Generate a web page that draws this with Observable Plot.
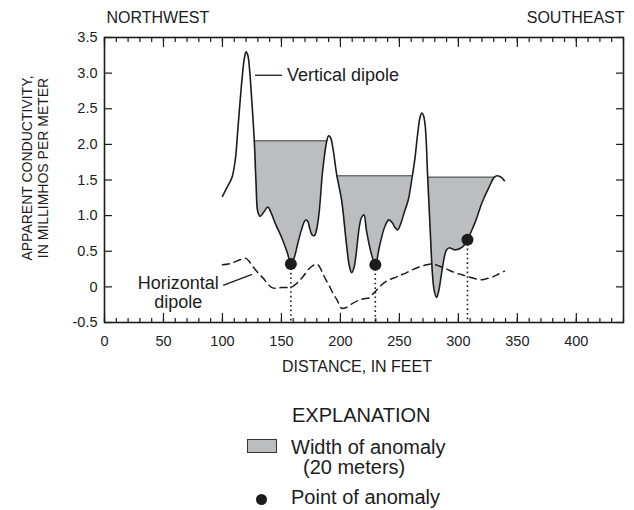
<!DOCTYPE html>
<html><head><meta charset="utf-8">
<script src="https://cdn.jsdelivr.net/npm/d3@7"></script>
<script src="https://cdn.jsdelivr.net/npm/@observablehq/plot@0.6"></script>
<style>
body{margin:0;background:#fff;}
#wrap{position:relative;width:634px;height:510px;font-family:"Liberation Sans",Arial,Helvetica,sans-serif;color:#1c1c1c;overflow:hidden;}
.lg{position:absolute;font-size:20px;line-height:20px;white-space:nowrap;}
</style></head><body>
<div id="wrap"><div id="chart"></div>
<div class="lg" style="left:292px;top:405px">EXPLANATION</div>
<div style="position:absolute;left:247px;top:439px;width:30px;height:14px;background:#bcbdc0;border:1px solid #333;box-sizing:border-box"></div>
<div class="lg" style="left:291px;top:437px">Width of anomaly</div>
<div class="lg" style="left:303px;top:457px">(20 meters)</div>
<div style="position:absolute;left:256px;top:494px;width:11px;height:11px;border-radius:50%;background:#1c1c1c"></div>
<div class="lg" style="left:291px;top:487px">Point of anomaly</div>
</div>
<script>
// Vertical dipole: [distance ft, conductivity]
const verticalDipole = [[100,1.27],[104,1.40],[108,1.53],[111,1.80],[113,2.2],[116.5,2.9],[118.5,3.2],[120,3.30],[121.5,3.25],[123,3.05],[125,2.58],[127,2.05],[128.5,1.45],[130,1.05],[132,0.99],[135,1.05],[138.5,1.12],[141,1.05],[145,0.88],[150,0.7],[155,0.48],[158,0.32],[161,0.42],[164,0.62],[167,0.80],[170,0.93],[172,0.93],[174,0.82],[176,0.73],[178,0.72],[180,0.82],[182,1.05],[185,1.64],[188.5,2.05],[190,2.12],[191.5,2.1],[193.5,1.96],[197,1.56],[201,1.22],[205,0.62],[207.5,0.3],[209.5,0.2],[211.5,0.27],[213,0.42],[216,0.84],[218,0.98],[220,1.01],[222,0.80],[226,0.48],[229.6,0.31],[233,0.56],[237.5,0.84],[241,0.94],[244,0.90],[246,0.84],[248.5,0.80],[251,0.88],[254,1.04],[257.5,1.22],[261,1.56],[263,1.78],[265.6,2.16],[267.5,2.38],[269,2.44],[270.5,2.40],[272,2.24],[274,1.54],[276,0.84],[278,0.19],[279.5,-0.05],[281.5,-0.15],[283,-0.08],[284,0],[286.6,0.28],[288.5,0.45],[290,0.52],[292.5,0.55],[295,0.53],[298,0.52],[303.6,0.56],[307.7,0.66],[311,0.78],[315,0.94],[320,1.18],[326,1.40],[330.5,1.54],[333,1.56],[335,1.55],[337,1.53],[339,1.49]];
// Horizontal dipole: [distance ft, conductivity]
const horizontalDipole = [[100,0.31],[105,0.32],[109,0.34],[115,0.38],[120,0.40],[123,0.35],[126,0.28],[130,0.2],[134.6,0.12],[138,0.05],[142,-0.01],[146,-0.02],[150,-0.01],[155,-0.01],[159,0.0],[163,0.05],[166,0.1],[169,0.16],[172.6,0.24],[176,0.29],[180,0.32],[182,0.29],[185,0.19],[188,0.09],[191,0],[194,-0.1],[197,-0.18],[199,-0.25],[201,-0.3],[205,-0.29],[209.6,-0.24],[214,-0.2],[219,-0.17],[225,-0.15],[228,-0.09],[231,-0.04],[235,0.03],[239,0.08],[243,0.11],[247.7,0.14],[250,0.16],[255,0.19],[261,0.24],[267,0.28],[273,0.31],[278,0.32],[284,0.29],[290,0.25],[297,0.2],[303,0.17],[307,0.15],[313,0.12],[320,0.1],[325,0.12],[329,0.14],[334,0.18],[339,0.22]];
// Anomaly widths
const anomalyX1 = [127, 197, 274];
const anomalyX2 = [188.5, 261, 330.5];
const anomalyTop = [2.05, 1.56, 1.54];
// Points of anomaly
const pointX = [158, 229.6, 307.7];
const pointY = [0.32, 0.31, 0.66];
// Ticks
const xTicks = [0, 50, 100, 150, 200, 250, 300, 350, 400];
const xMinorTicks = [0,10,20,30,40,50,60,70,80,90,100,110,120,130,140,150,160,170,180,190,200,210,220,230,240,250,260,270,280,290,300,310,320,330,340,350,360,370,380,390,400,410,420,430,440];
const yTicks = [-0.5, 0, 0.5, 1.0, 1.5, 2.0, 2.5, 3.0, 3.5];
// Annotations
const verticalLabel = [{t: "Vertical dipole", x: 154.7, y: 2.97}];
const horizontalLabel = [{t: "Horizontal\ndipole", x: 62.5, y: -0.077}];
const leaderX1 = [127.6, 100.6], leaderY1 = [2.97, 0.02];
const leaderX2 = [150.5, 125.1], leaderY2 = [2.97, 0.175];

const V = verticalDipole.map(([x, y]) => ({x, y}));
const H = horizontalDipole.map(([x, y]) => ({x, y}));
const regions = anomalyX1.map((x1, i) => ({x1, x2: anomalyX2[i], top: anomalyTop[i], r: i}));
const shade = regions.flatMap(r => V.filter(d => d.x >= r.x1 && d.x <= r.x2).map(d => ({...d, top: r.top, r: r.r})));
const pts = pointX.map((x, i) => ({x, y: pointY[i]}));
const leaders = leaderX1.map((x1, i) => ({x1, y1: leaderY1[i], x2: leaderX2[i], y2: leaderY2[i]}));

const ink = "#1c1c1c";
const font = '"Liberation Sans", Arial, Helvetica, sans-serif';
const chart = Plot.plot({
  width: 634, height: 385,
  marginLeft: 104, marginRight: 11, marginTop: 37, marginBottom: 63,
  style: {fontFamily: font, fontSize: "14.5px", color: ink, background: "white"},
  x: {domain: [0, 440]},
  y: {domain: [yTicks[0], yTicks[yTicks.length - 1]]},
  marks: [
    Plot.areaY(shade, {x: "x", y1: "top", y2: "y", z: "r", fill: "#bcbdc0", curve: "catmull-rom"}),
    Plot.ruleY(regions, {y: "top", x1: "x1", x2: "x2", stroke: "#6e6e6e", strokeWidth: 1.5}),
    Plot.ruleX(pts, {x: "x", y1: "y", y2: yTicks[0], stroke: ink, strokeWidth: 1.6, strokeDasharray: "1.6,3"}),
    Plot.line(H, {x: "x", y: "y", stroke: ink, strokeWidth: 1.5, strokeDasharray: "7,5", curve: "catmull-rom"}),
    Plot.line(V, {x: "x", y: "y", stroke: ink, strokeWidth: 1.6, curve: "catmull-rom"}),
    Plot.dot(pts, {x: "x", y: "y", r: 6, fill: ink}),
    Plot.link(leaders, {x1: "x1", y1: "y1", x2: "x2", y2: "y2", stroke: ink, strokeWidth: 1.3}),
    Plot.text(verticalLabel, {x: "x", y: "y", text: "t", textAnchor: "start", lineAnchor: "middle", fontSize: 18, fill: ink}),
    Plot.text(horizontalLabel, {x: "x", y: "y", text: "t", textAnchor: "middle", lineAnchor: "middle", lineHeight: 1.05, fontSize: 18, fill: ink}),
    Plot.axisX({ticks: xMinorTicks, anchor: "bottom", tickSize: -4, tickFormat: () => "", label: null, strokeWidth: 1.2}),
    Plot.axisX({ticks: xMinorTicks, anchor: "top", tickSize: -4, tickFormat: () => "", label: null, strokeWidth: 1.2}),
    Plot.axisX({ticks: xTicks, anchor: "bottom", tickSize: -9, tickFormat: () => "", label: null, strokeWidth: 1.2}),
    Plot.axisX({ticks: xTicks, anchor: "top", tickSize: -9, tickFormat: () => "", label: null, strokeWidth: 1.2}),
    Plot.axisX({ticks: xTicks, anchor: "bottom", tickSize: 0, tickPadding: 13, label: null, fontSize: 14.5}),
    Plot.axisY({ticks: yTicks, anchor: "left", tickSize: -8, tickFormat: () => "", label: null, strokeWidth: 1.2}),
    Plot.axisY({ticks: yTicks, anchor: "right", tickSize: -8, tickFormat: () => "", label: null, strokeWidth: 1.2}),
    Plot.axisY({ticks: yTicks, anchor: "left", tickSize: 0, tickPadding: 7, label: null, fontSize: 14.5,
      tickFormat: d => d === 0 ? "0" : d.toFixed(1)}),
    Plot.frame({stroke: ink, strokeWidth: 1.6}),
    Plot.text(["DISTANCE, IN FEET"], {frameAnchor: "bottom", textAnchor: "middle", dx: -7, dy: 44, lineAnchor: "middle", fontSize: 16, fill: ink}),
    Plot.text(["APPARENT CONDUCTIVITY,\nIN MILLIMHOS PER METER"], {frameAnchor: "left", textAnchor: "middle", rotate: -90, dx: -70, dy: -12, lineAnchor: "middle", lineHeight: 1.15, fontSize: 14, fill: ink}),
    Plot.text(["NORTHWEST"], {frameAnchor: "top-left", textAnchor: "start", dx: 2, dy: -20, lineAnchor: "middle", fontSize: 16, fill: ink}),
    Plot.text(["SOUTHEAST"], {frameAnchor: "top-right", textAnchor: "end", dx: 1, dy: -20, lineAnchor: "middle", fontSize: 16, fill: ink})
  ]
});
document.getElementById("chart").appendChild(chart);
</script>
</body></html>
